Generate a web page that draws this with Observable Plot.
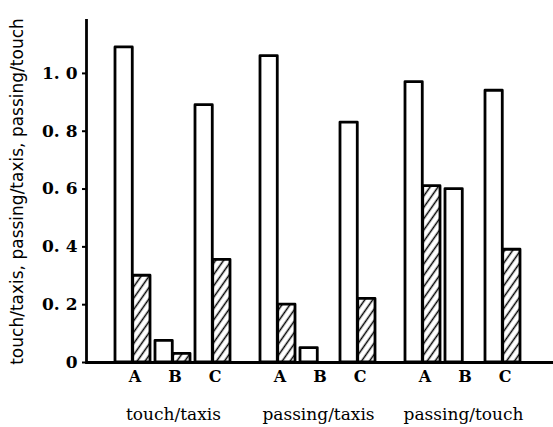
<!DOCTYPE html>
<html><head><meta charset="utf-8">
<script src="https://cdn.jsdelivr.net/npm/d3@7"></script>
<script src="https://cdn.jsdelivr.net/npm/@observablehq/plot@0.6"></script>
<style>body{margin:0;background:#fff}#chart{position:relative;width:553px;height:427px}#chart svg{display:block;position:absolute;left:0;top:0}</style>
</head><body><div id="chart"></div>
<script>
const groups = ["touch/taxis", "passing/taxis", "passing/touch"];
const subgroups = ["A", "B", "C"];
const plainValues = [1.09, 0.075, 0.89, 1.06, 0.05, 0.83, 0.97, 0.60, 0.94];
const hatchedValues = [0.30, 0.03, 0.355, 0.20, null, 0.22, 0.61, null, 0.39];
const yTicks = [0, 0.2, 0.4, 0.6, 0.8, 1.0];
const yLabel = "touch/taxis, passing/taxis, passing/touch";

const rows = [];
groups.forEach((g, i) => subgroups.forEach((s, j) => rows.push({
  group: g, sub: s, plain: plainValues[i * 3 + j], hatched: hatchedValues[i * 3 + j]
})));

const W = 553, H = 427, ML = 86, MR = 0, MT = 20, MB = 65;
const yDomain = [0, 1.183];
const fxPadIn = 0.2, fxPadOut = 0.21, xPadIn = 0.12;
const fxStep = (W - ML - MR) / (groups.length - fxPadIn + 2 * fxPadOut);
const fxBand = fxStep * (1 - fxPadIn);
const xBand = fxBand / (subgroups.length - xPadIn) * (1 - xPadIn);
const half = xBand / 2;
const serif = "DejaVu Serif";

const bars = Plot.plot({
  width: W, height: H,
  marginLeft: ML, marginRight: MR, marginTop: MT, marginBottom: MB,
  style: {background: "#fff", color: "#000"},
  fx: {domain: groups, padding: fxPadIn, paddingOuter: fxPadOut, align: 0.48, axis: null},
  x: {domain: subgroups, paddingInner: xPadIn, paddingOuter: 0, axis: null},
  y: {domain: yDomain, axis: null},
  marks: [
    Plot.barY(rows.filter(d => d.plain != null), {fx: "group", x: "sub", y: "plain", fill: "#fff", stroke: "#000", strokeWidth: 2.8, strokeLinejoin: "round", insetRight: half}),
    Plot.barY(rows.filter(d => d.hatched != null), {fx: "group", x: "sub", y: "hatched", fill: "url(#hatch)", stroke: "#000", strokeWidth: 2.8, strokeLinejoin: "round", insetLeft: half}),
    Plot.axisX({tickSize: 0, tickPadding: 8, fontSize: 16, fontWeight: "bold", fontFamily: serif, label: null, dx: 2}),
    Plot.axisFx({anchor: "bottom", tickSize: 0, tickPadding: 45, fontSize: 17, fontFamily: serif, label: null, letterSpacing: 1})
  ]
});
d3.select(bars).insert("defs", ":first-child").html(
  '<pattern id="hatch" patternUnits="userSpaceOnUse" width="6.5" height="6.5" patternTransform="rotate(35)">' +
  '<rect width="6.5" height="6.5" fill="#fff"/><line x1="3.25" y1="0" x2="3.25" y2="6.5" stroke="#000" stroke-width="1.5"/></pattern>');

const axes = Plot.plot({
  width: W, height: H,
  marginLeft: ML, marginRight: MR, marginTop: MT, marginBottom: MB,
  style: {background: "transparent", color: "#000", overflow: "visible"},
  y: {domain: yDomain, axis: null},
  marks: [
    Plot.ruleY([0], {stroke: "#000", strokeWidth: 2.8}),
    Plot.frame({anchor: "left", stroke: "#000", strokeWidth: 2.8}),
    Plot.axisY({ticks: yTicks, tickSize: 4, tickPadding: 5, strokeWidth: 2,
      tickFormat: d => d === 0 ? "0" : d3.format(".1f")(d).replace(".", ". "),
      fontSize: 17, fontWeight: "bold", fontFamily: serif, label: null}),
    Plot.text([yLabel], {frameAnchor: "left", textAnchor: "middle", rotate: -90, dx: -69,
      fontSize: 17, fontFamily: "DejaVu Sans", letterSpacing: 0.6, fill: "#000"})
  ]
});
const chart = document.getElementById("chart");
chart.append(bars);
chart.append(axes);
</script></body></html>
